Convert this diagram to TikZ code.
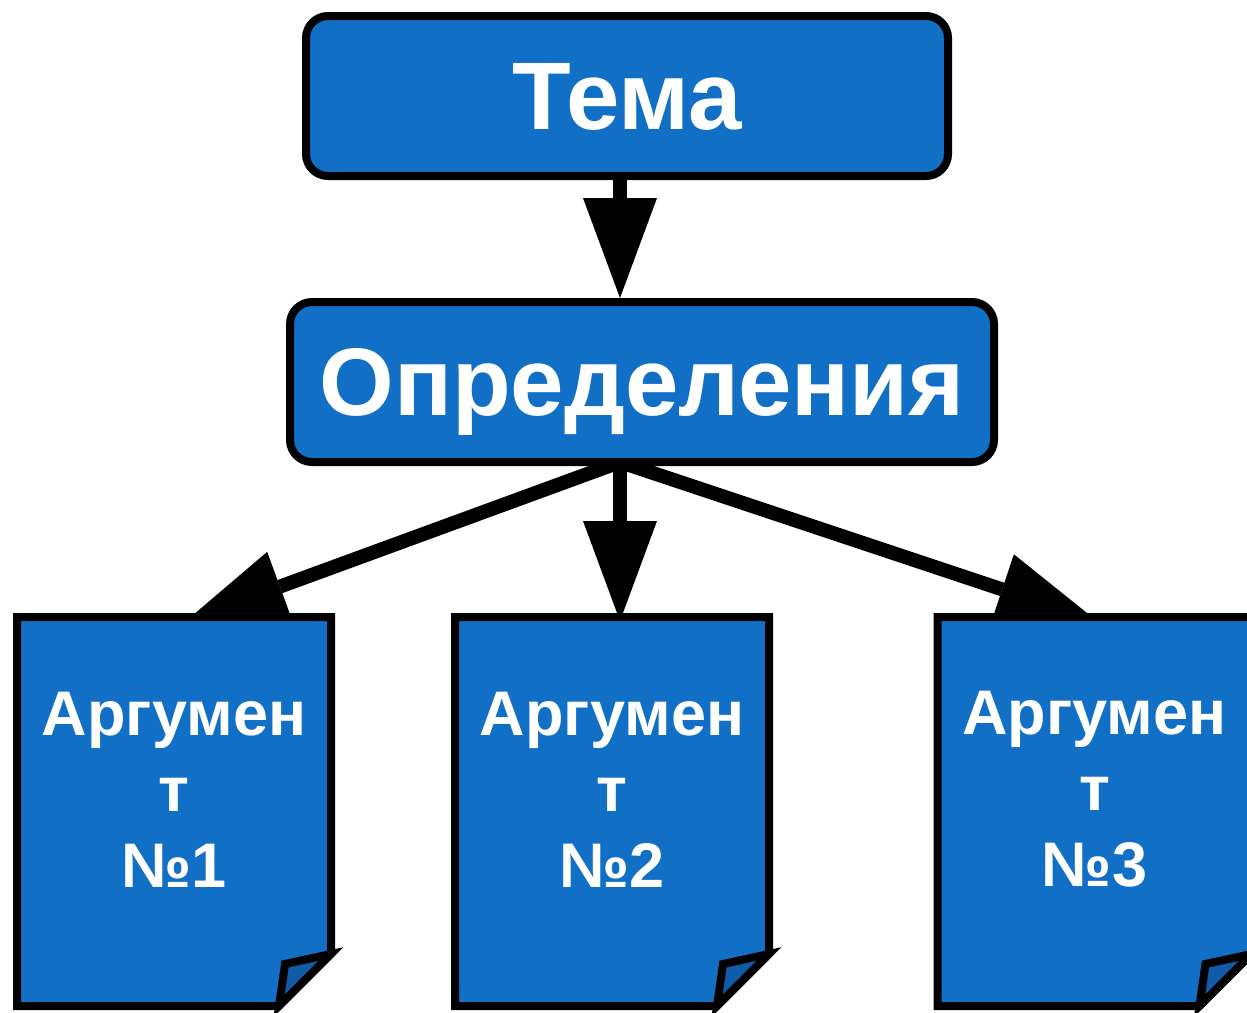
\documentclass[tikz,border=0pt]{standalone}
\usepackage{fontspec}
\setmainfont{Liberation Sans}
\usetikzlibrary{arrows.meta,calc}
\definecolor{boxblue}{RGB}{17,112,198}
\definecolor{foldblue}{RGB}{16,92,168}
\begin{document}
\begin{tikzpicture}[x=1pt,y=-1pt,
  topbox/.style={draw=black, line width=8pt, fill=boxblue, rounded corners=22pt, text=white, inner sep=0pt, text depth=0pt},
  docarea/.style={minimum width=314pt, minimum height=389pt, inner sep=0pt, outer sep=0pt},
  doctext/.style={text=white, font=\fontsize{63}{76}\selectfont\bfseries, align=center, inner sep=0pt},
  conn/.style={line width=14pt, -{Triangle[length=100pt,width=74pt,line width=0pt]}},
  docshape/.style={draw=black, line width=8pt, fill=boxblue},
  foldshape/.style={draw=black, line width=8pt, fill=foldblue}]
\useasboundingbox (0,0) rectangle (1247,1012);

% nodes
\node[docarea] (d1) at (174,811.5) {};
\node[docarea] (d2) at (612,811.5) {};
\node[docarea] (d3) at (1094.5,811.5) {};

% connectors (drawn first so boxes cover their tails)
\coordinate (s0) at (620,176);
\coordinate (s1) at (620,462);
\coordinate (e1) at ($(d1.north)+(12,4)$);
\coordinate (e2) at ($(d2.north)+(8,4)$);
\coordinate (e3) at ($(d3.north)+(2.5,4)$);
\coordinate (e0) at (620,298);
\draw[conn] (s0) -- (e0);
\draw[conn] (s1) -- (e1);
\draw[conn] (s1) -- (e2);
\draw[conn] (s1) -- (e3);

\node[topbox, minimum width=642pt, minimum height=160pt, font=\fontsize{96}{110}\selectfont\bfseries] (tema) at (627,96) {Тема};
\node[topbox, minimum width=704pt, minimum height=160pt, font=\fontsize{96}{110}\selectfont\bfseries] (opr) at (642,382) {Определения};

\foreach \d in {d1,d2,d3}{
  \draw[docshape] (\d.north west) -- (\d.north east) -- ($(\d.south east)+(0,-52)$) -- ($(\d.south east)+(-52,0)$) -- (\d.south west) -- cycle;
  \draw[foldshape] ($(\d.south east)+(0,-52)$) -- ($(\d.south east)+(-46,-42)$) -- ($(\d.south east)+(-52,0)$) -- cycle;
}

\node[doctext] (t1) at ($(d1.center)+(0,-22)$) {Аргумен\\т\\№1};
\node[doctext] (t2) at ($(d2.center)+(0,-22)$) {Аргумен\\т\\№2};
\node[doctext] (t3) at ($(d3.center)+(0,-22)$) {Аргумен\\т\\№3};
\end{tikzpicture}
\end{document}
